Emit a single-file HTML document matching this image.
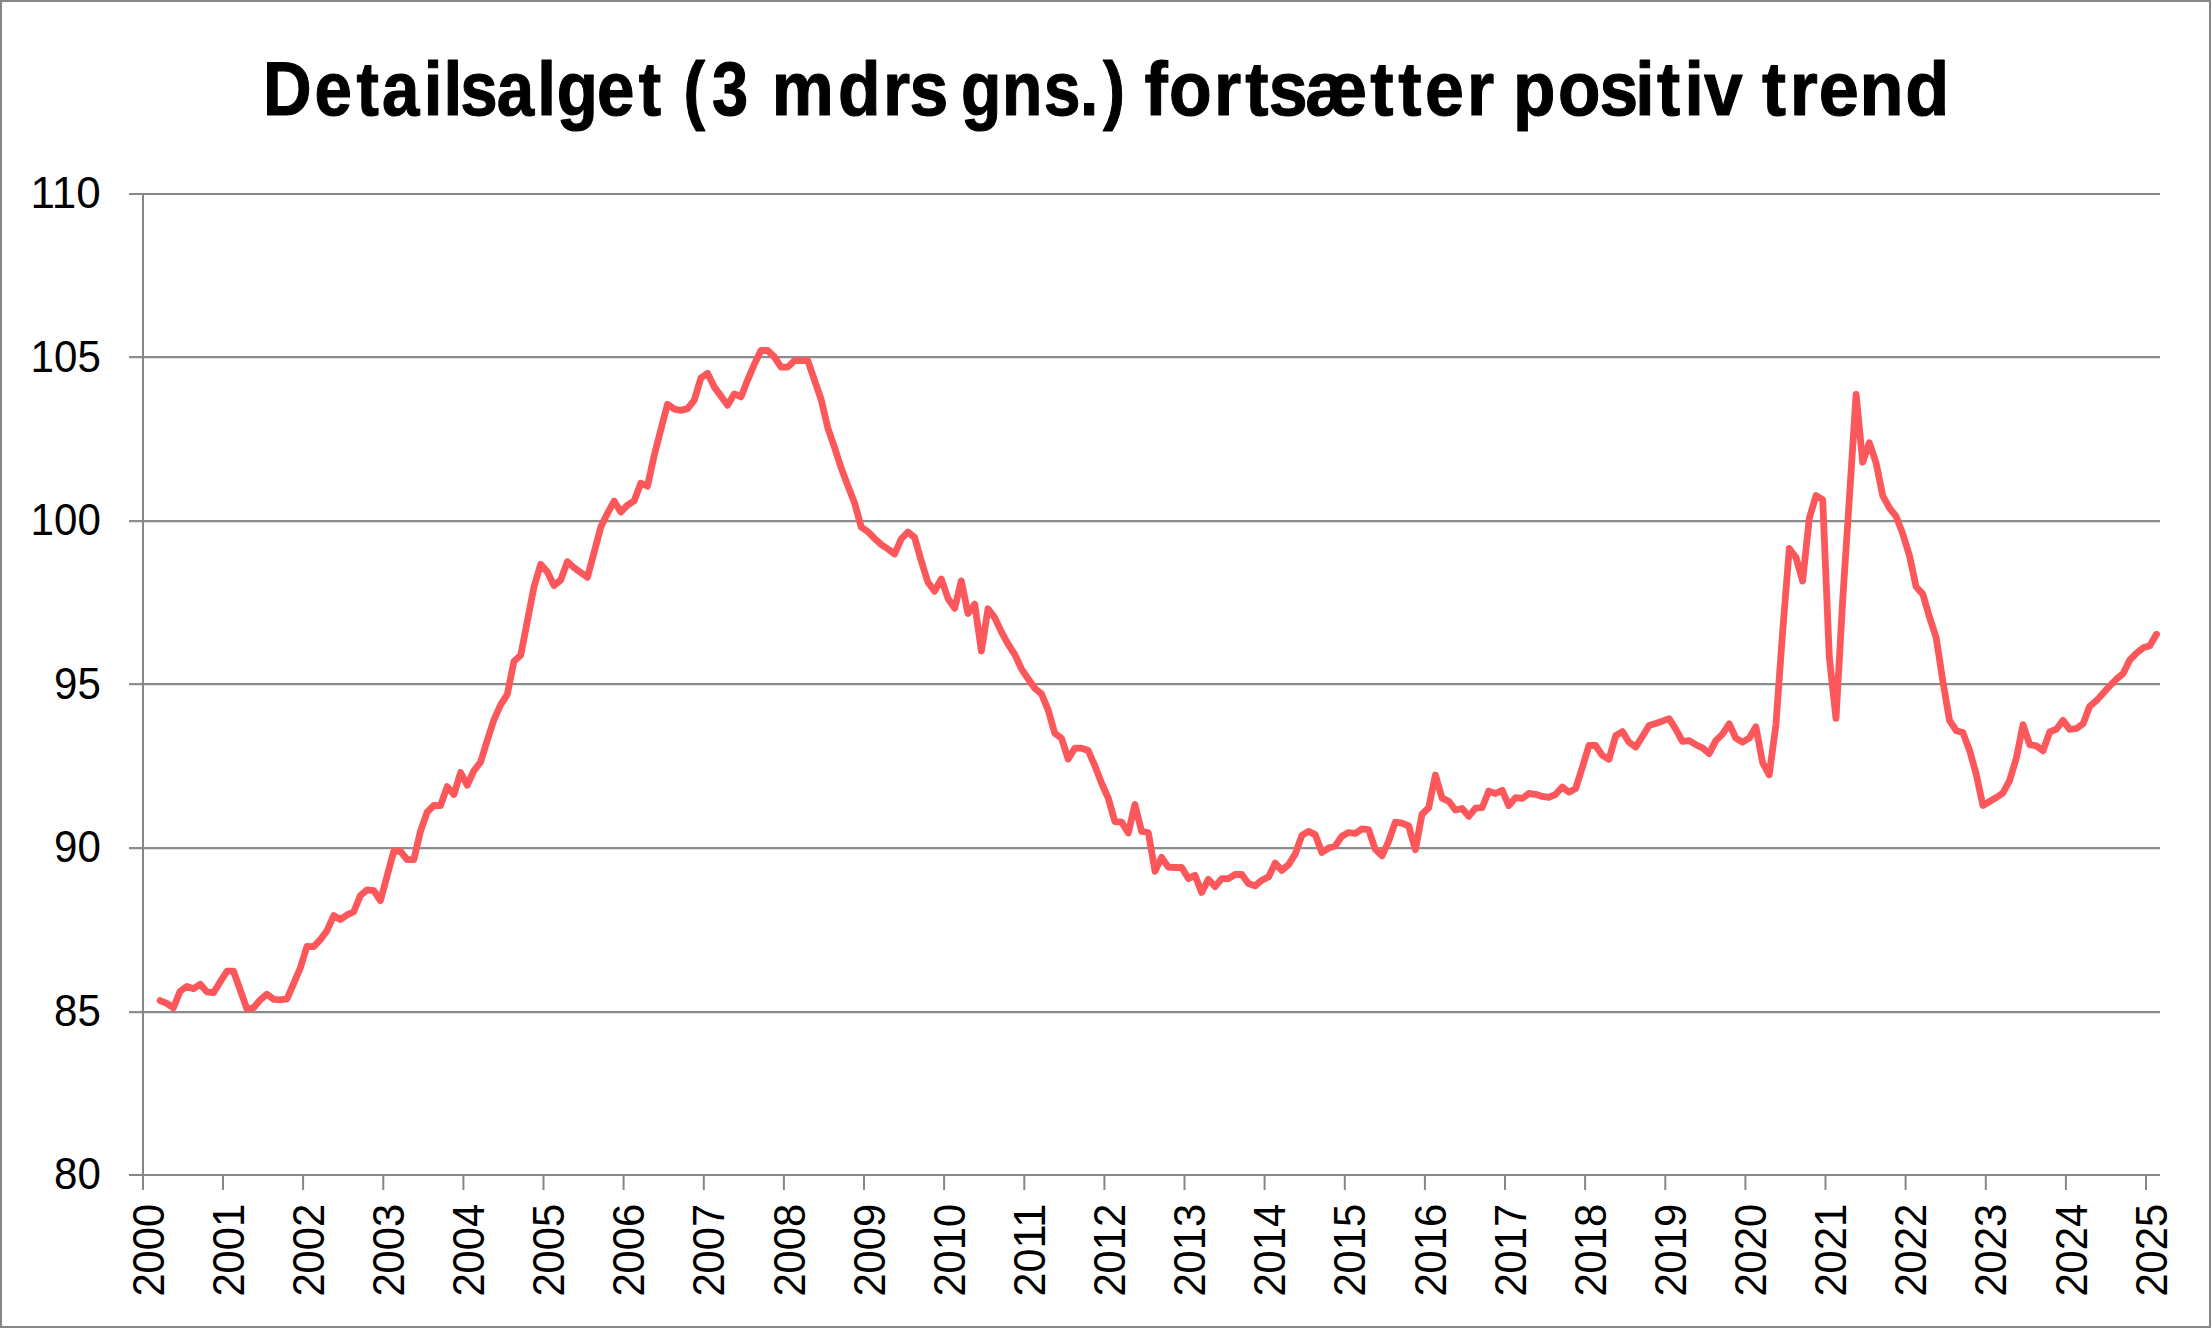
<!DOCTYPE html>
<html lang="da"><head><meta charset="utf-8"><title>Detailsalget</title>
<style>
html,body{margin:0;padding:0;background:#fff;}
body{width:2211px;height:1328px;overflow:hidden;}
svg{display:block;}
text{font-family:"Liberation Sans",sans-serif;fill:#000;}
.t{font-weight:bold;font-size:76px;stroke:#000;stroke-width:1.1px;stroke-linejoin:round;}
.a{font-size:44.2px;}
</style></head><body>
<svg width="2211" height="1328" viewBox="0 0 2211 1328">
<rect x="0" y="0" width="2211" height="1328" fill="#fff"/>
<rect x="1" y="1" width="2209" height="1326" fill="none" stroke="#868686" stroke-width="2"/>

<line x1="129" y1="194" x2="2160" y2="194" stroke="#868686" stroke-width="2"/>
<line x1="129" y1="357" x2="2160" y2="357" stroke="#8c8c8c" stroke-width="2"/>
<line x1="129" y1="358.5" x2="2160" y2="358.5" stroke="#e2e2e2" stroke-width="1"/>
<line x1="129" y1="521" x2="2160" y2="521" stroke="#8c8c8c" stroke-width="2"/>
<line x1="129" y1="522.5" x2="2160" y2="522.5" stroke="#e2e2e2" stroke-width="1"/>
<line x1="129" y1="684" x2="2160" y2="684" stroke="#8c8c8c" stroke-width="2"/>
<line x1="129" y1="685.5" x2="2160" y2="685.5" stroke="#e2e2e2" stroke-width="1"/>
<line x1="129" y1="848" x2="2160" y2="848" stroke="#8c8c8c" stroke-width="2"/>
<line x1="129" y1="849.5" x2="2160" y2="849.5" stroke="#e2e2e2" stroke-width="1"/>
<line x1="129" y1="1012" x2="2160" y2="1012" stroke="#8c8c8c" stroke-width="2"/>
<line x1="129" y1="1013.5" x2="2160" y2="1013.5" stroke="#e2e2e2" stroke-width="1"/>
<line x1="129" y1="1175" x2="2160" y2="1175" stroke="#868686" stroke-width="2"/>
<line x1="143" y1="193" x2="143" y2="1190" stroke="#868686" stroke-width="2"/>
<line x1="223.0" y1="1175" x2="223.0" y2="1190" stroke="#868686" stroke-width="2"/>
<line x1="303.1" y1="1175" x2="303.1" y2="1190" stroke="#868686" stroke-width="2"/>
<line x1="383.3" y1="1175" x2="383.3" y2="1190" stroke="#868686" stroke-width="2"/>
<line x1="463.4" y1="1175" x2="463.4" y2="1190" stroke="#868686" stroke-width="2"/>
<line x1="543.5" y1="1175" x2="543.5" y2="1190" stroke="#868686" stroke-width="2"/>
<line x1="623.6" y1="1175" x2="623.6" y2="1190" stroke="#868686" stroke-width="2"/>
<line x1="703.8" y1="1175" x2="703.8" y2="1190" stroke="#868686" stroke-width="2"/>
<line x1="783.9" y1="1175" x2="783.9" y2="1190" stroke="#868686" stroke-width="2"/>
<line x1="864.0" y1="1175" x2="864.0" y2="1190" stroke="#868686" stroke-width="2"/>
<line x1="944.1" y1="1175" x2="944.1" y2="1190" stroke="#868686" stroke-width="2"/>
<line x1="1024.3" y1="1175" x2="1024.3" y2="1190" stroke="#868686" stroke-width="2"/>
<line x1="1104.4" y1="1175" x2="1104.4" y2="1190" stroke="#868686" stroke-width="2"/>
<line x1="1184.5" y1="1175" x2="1184.5" y2="1190" stroke="#868686" stroke-width="2"/>
<line x1="1264.6" y1="1175" x2="1264.6" y2="1190" stroke="#868686" stroke-width="2"/>
<line x1="1344.8" y1="1175" x2="1344.8" y2="1190" stroke="#868686" stroke-width="2"/>
<line x1="1424.9" y1="1175" x2="1424.9" y2="1190" stroke="#868686" stroke-width="2"/>
<line x1="1505.0" y1="1175" x2="1505.0" y2="1190" stroke="#868686" stroke-width="2"/>
<line x1="1585.1" y1="1175" x2="1585.1" y2="1190" stroke="#868686" stroke-width="2"/>
<line x1="1665.3" y1="1175" x2="1665.3" y2="1190" stroke="#868686" stroke-width="2"/>
<line x1="1745.4" y1="1175" x2="1745.4" y2="1190" stroke="#868686" stroke-width="2"/>
<line x1="1825.5" y1="1175" x2="1825.5" y2="1190" stroke="#868686" stroke-width="2"/>
<line x1="1905.6" y1="1175" x2="1905.6" y2="1190" stroke="#868686" stroke-width="2"/>
<line x1="1985.8" y1="1175" x2="1985.8" y2="1190" stroke="#868686" stroke-width="2"/>
<line x1="2065.9" y1="1175" x2="2065.9" y2="1190" stroke="#868686" stroke-width="2"/>
<line x1="2146.0" y1="1175" x2="2146.0" y2="1190" stroke="#868686" stroke-width="2"/>
<text class="a" x="30.6" y="208.3" textLength="70.2" lengthAdjust="spacingAndGlyphs">110</text>
<text class="a" x="30.6" y="371.5" textLength="70.2" lengthAdjust="spacingAndGlyphs">105</text>
<text class="a" x="30.6" y="535.4" textLength="70.2" lengthAdjust="spacingAndGlyphs">100</text>
<text class="a" x="54.0" y="698.5" textLength="46.8" lengthAdjust="spacingAndGlyphs">95</text>
<text class="a" x="54.0" y="862.4" textLength="46.8" lengthAdjust="spacingAndGlyphs">90</text>
<text class="a" x="54.0" y="1026.4" textLength="46.8" lengthAdjust="spacingAndGlyphs">85</text>
<text class="a" x="54.0" y="1189.3" textLength="46.8" lengthAdjust="spacingAndGlyphs">80</text>
<text class="a" transform="translate(163.5,1296.6) rotate(-90)" textLength="92.8" lengthAdjust="spacingAndGlyphs">2000</text>
<text class="a" transform="translate(243.6,1296.6) rotate(-90)" textLength="92.8" lengthAdjust="spacingAndGlyphs">2001</text>
<text class="a" transform="translate(323.7,1296.6) rotate(-90)" textLength="92.8" lengthAdjust="spacingAndGlyphs">2002</text>
<text class="a" transform="translate(403.9,1296.6) rotate(-90)" textLength="92.8" lengthAdjust="spacingAndGlyphs">2003</text>
<text class="a" transform="translate(484.0,1296.6) rotate(-90)" textLength="92.8" lengthAdjust="spacingAndGlyphs">2004</text>
<text class="a" transform="translate(564.1,1296.6) rotate(-90)" textLength="92.8" lengthAdjust="spacingAndGlyphs">2005</text>
<text class="a" transform="translate(644.2,1296.6) rotate(-90)" textLength="92.8" lengthAdjust="spacingAndGlyphs">2006</text>
<text class="a" transform="translate(724.4,1296.6) rotate(-90)" textLength="92.8" lengthAdjust="spacingAndGlyphs">2007</text>
<text class="a" transform="translate(804.5,1296.6) rotate(-90)" textLength="92.8" lengthAdjust="spacingAndGlyphs">2008</text>
<text class="a" transform="translate(884.6,1296.6) rotate(-90)" textLength="92.8" lengthAdjust="spacingAndGlyphs">2009</text>
<text class="a" transform="translate(964.7,1296.6) rotate(-90)" textLength="92.8" lengthAdjust="spacingAndGlyphs">2010</text>
<text class="a" transform="translate(1044.9,1296.6) rotate(-90)" textLength="92.8" lengthAdjust="spacingAndGlyphs">2011</text>
<text class="a" transform="translate(1125.0,1296.6) rotate(-90)" textLength="92.8" lengthAdjust="spacingAndGlyphs">2012</text>
<text class="a" transform="translate(1205.1,1296.6) rotate(-90)" textLength="92.8" lengthAdjust="spacingAndGlyphs">2013</text>
<text class="a" transform="translate(1285.2,1296.6) rotate(-90)" textLength="92.8" lengthAdjust="spacingAndGlyphs">2014</text>
<text class="a" transform="translate(1365.4,1296.6) rotate(-90)" textLength="92.8" lengthAdjust="spacingAndGlyphs">2015</text>
<text class="a" transform="translate(1445.5,1296.6) rotate(-90)" textLength="92.8" lengthAdjust="spacingAndGlyphs">2016</text>
<text class="a" transform="translate(1525.6,1296.6) rotate(-90)" textLength="92.8" lengthAdjust="spacingAndGlyphs">2017</text>
<text class="a" transform="translate(1605.7,1296.6) rotate(-90)" textLength="92.8" lengthAdjust="spacingAndGlyphs">2018</text>
<text class="a" transform="translate(1685.9,1296.6) rotate(-90)" textLength="92.8" lengthAdjust="spacingAndGlyphs">2019</text>
<text class="a" transform="translate(1766.0,1296.6) rotate(-90)" textLength="92.8" lengthAdjust="spacingAndGlyphs">2020</text>
<text class="a" transform="translate(1846.1,1296.6) rotate(-90)" textLength="92.8" lengthAdjust="spacingAndGlyphs">2021</text>
<text class="a" transform="translate(1926.2,1296.6) rotate(-90)" textLength="92.8" lengthAdjust="spacingAndGlyphs">2022</text>
<text class="a" transform="translate(2006.4,1296.6) rotate(-90)" textLength="92.8" lengthAdjust="spacingAndGlyphs">2023</text>
<text class="a" transform="translate(2086.5,1296.6) rotate(-90)" textLength="92.8" lengthAdjust="spacingAndGlyphs">2024</text>
<text class="a" transform="translate(2166.6,1296.6) rotate(-90)" textLength="92.8" lengthAdjust="spacingAndGlyphs">2025</text>
<g class="t">
<text transform="scale(0.8850,1)" x="297.1 355.3 402.8 431.6 478.7 501.2 520.0 561.4 607.1 629.1 674.5 721.7" y="115">Detailsalget</text>
<text transform="scale(0.8551,1)" x="799.3 832.7" y="115">(3</text>
<text transform="scale(0.9175,1)" x="841.1 913.4 962.3 991.4" y="115">mdrs</text>
<text transform="scale(0.8691,1)" x="1105.8 1152.8 1201.1 1242.6 1269.1" y="115">gns.)</text>
<text transform="scale(0.9200,1)" x="1244.0 1270.6 1319.7 1353.5 1379.1 1418.8 1489.5 1519.8 1548.8 1594.7" y="115">fortsætter</text>
<text transform="scale(0.9148,1)" x="1653.9 1703.1 1748.5 1787.6 1811.4 1841.3 1862.6" y="115">positiv</text>
<text transform="scale(0.9483,1)" x="1858.0 1887.3 1917.8 1960.9 2009.2" y="115">trend</text>
</g>
<polyline points="160.1,1000.6 166.8,1003.4 173.4,1007.8 180.1,991.4 186.8,986.4 193.5,988.7 200.2,984.3 206.8,991.8 213.5,992.7 220.2,981.9 226.9,971.2 233.5,971.2 240.2,990.0 246.9,1008.8 253.6,1007.8 260.2,999.9 266.9,994.2 273.6,999.3 280.3,999.9 287.0,998.8 293.6,983.6 300.3,968.0 307.0,946.3 313.7,946.6 320.3,939.6 327.0,930.7 333.7,915.5 340.4,919.6 347.0,914.9 353.7,911.7 360.4,895.5 367.1,889.8 373.8,890.7 380.4,900.6 387.1,875.8 393.8,851.1 400.5,851.4 407.1,859.7 413.8,859.7 420.5,831.1 427.2,812.1 433.8,805.3 440.5,805.6 447.2,786.6 453.9,794.5 460.6,772.5 467.2,785.3 473.9,770.7 480.6,761.9 487.3,740.2 493.9,719.9 500.6,704.9 507.3,694.3 514.0,661.2 520.7,655.3 527.3,621.4 534.0,586.8 540.7,564.2 547.4,571.9 554.0,585.5 560.7,580.0 567.4,561.7 574.1,567.8 580.7,572.6 587.4,577.3 594.1,552.5 600.8,527.1 607.5,513.3 614.1,501.1 620.8,512.1 627.5,505.1 634.2,500.8 640.8,483.2 647.5,486.1 654.2,455.5 660.9,429.4 667.5,404.2 674.2,409.1 680.9,410.4 687.6,408.6 694.3,400.1 700.9,378.1 707.6,373.3 714.3,387.1 721.0,396.1 727.6,405.3 734.3,393.9 741.0,396.9 747.7,379.8 754.3,364.3 761.0,350.5 767.7,350.5 774.4,357.0 781.1,367.1 787.7,367.1 794.4,360.7 801.1,360.7 807.8,360.7 814.4,379.8 821.1,399.3 827.8,427.8 834.5,447.3 841.1,467.7 847.8,485.6 854.5,502.7 861.2,527.0 867.9,531.7 874.5,538.4 881.2,544.5 887.9,549.0 894.6,554.0 901.2,539.0 907.9,532.0 914.6,537.5 921.3,561.1 927.9,582.2 934.6,591.2 941.3,579.0 948.0,598.5 954.7,608.3 961.3,580.9 968.0,613.5 974.7,604.2 981.4,651.1 988.0,608.8 994.7,617.6 1001.4,631.9 1008.1,644.1 1014.7,654.4 1021.4,668.8 1028.1,678.8 1034.8,688.3 1041.5,693.9 1048.1,709.9 1054.8,733.3 1061.5,738.3 1068.2,759.1 1074.8,748.2 1081.5,748.2 1088.2,750.5 1094.9,765.9 1101.5,783.0 1108.2,798.0 1114.9,821.6 1121.6,822.1 1128.3,833.0 1134.9,804.5 1141.6,831.4 1148.3,832.5 1155.0,871.2 1161.6,857.4 1168.3,867.2 1175.0,867.5 1181.7,867.5 1188.4,878.6 1195.0,875.3 1201.7,892.4 1208.4,879.4 1215.1,886.7 1221.7,878.6 1228.4,878.6 1235.1,874.5 1241.8,874.5 1248.4,883.5 1255.1,885.9 1261.8,880.2 1268.5,876.9 1275.2,863.1 1281.8,870.4 1288.5,864.7 1295.2,854.1 1301.9,835.4 1308.5,831.4 1315.2,834.6 1321.9,852.5 1328.6,848.1 1335.2,846.0 1341.9,836.2 1348.6,832.5 1355.3,833.5 1362.0,828.9 1368.6,829.7 1375.3,849.3 1382.0,855.8 1388.7,841.1 1395.3,822.1 1402.0,823.2 1408.7,826.0 1415.4,849.7 1422.0,814.3 1428.7,807.8 1435.4,775.0 1442.1,798.2 1448.8,801.3 1455.4,810.0 1462.1,808.5 1468.8,816.3 1475.5,808.2 1482.1,807.7 1488.8,791.1 1495.5,793.5 1502.2,790.3 1508.8,805.7 1515.5,797.6 1522.2,798.4 1528.9,793.5 1535.6,794.3 1542.2,796.4 1548.9,797.3 1555.6,794.3 1562.3,787.0 1568.9,792.2 1575.6,788.6 1582.3,767.5 1589.0,745.5 1595.6,745.5 1602.3,755.3 1609.0,759.3 1615.7,735.7 1622.4,731.6 1629.0,742.2 1635.7,747.1 1642.4,736.5 1649.1,725.5 1655.7,723.5 1662.4,721.1 1669.1,718.6 1675.8,729.2 1682.4,741.4 1689.1,740.6 1695.8,744.7 1702.5,747.9 1709.2,753.6 1715.8,740.6 1722.5,734.1 1729.2,723.8 1735.9,738.2 1742.5,742.2 1749.2,738.2 1755.9,726.8 1762.6,762.6 1769.2,774.8 1775.9,725.1 1782.6,632.3 1789.3,548.5 1796.0,557.5 1802.6,581.1 1809.3,518.4 1816.0,495.6 1822.7,499.7 1829.3,656.8 1836.0,718.3 1842.7,600.0 1849.4,498.0 1856.1,394.3 1862.7,462.2 1869.4,442.7 1876.1,463.0 1882.8,495.9 1889.4,507.8 1896.1,516.4 1902.8,533.9 1909.5,555.8 1916.1,586.8 1922.8,594.1 1929.5,617.1 1936.2,637.8 1942.9,681.5 1949.5,720.4 1956.2,730.7 1962.9,732.6 1969.6,750.5 1976.2,774.1 1982.9,805.5 1989.6,801.5 1996.3,797.5 2002.9,793.0 2009.6,780.6 2016.3,758.3 2023.0,724.6 2029.7,744.6 2036.3,745.8 2043.0,750.8 2049.7,732.0 2056.4,729.2 2063.0,720.4 2069.7,729.4 2076.4,728.5 2083.1,723.7 2089.7,706.3 2096.4,700.7 2103.1,693.3 2109.8,685.9 2116.5,679.0 2123.1,673.6 2129.8,660.0 2136.5,653.2 2143.2,647.8 2149.8,645.8 2156.5,634.2" fill="none" stroke="#fc585b" stroke-width="6.8" stroke-linejoin="round" stroke-linecap="round"/>
</svg></body></html>
